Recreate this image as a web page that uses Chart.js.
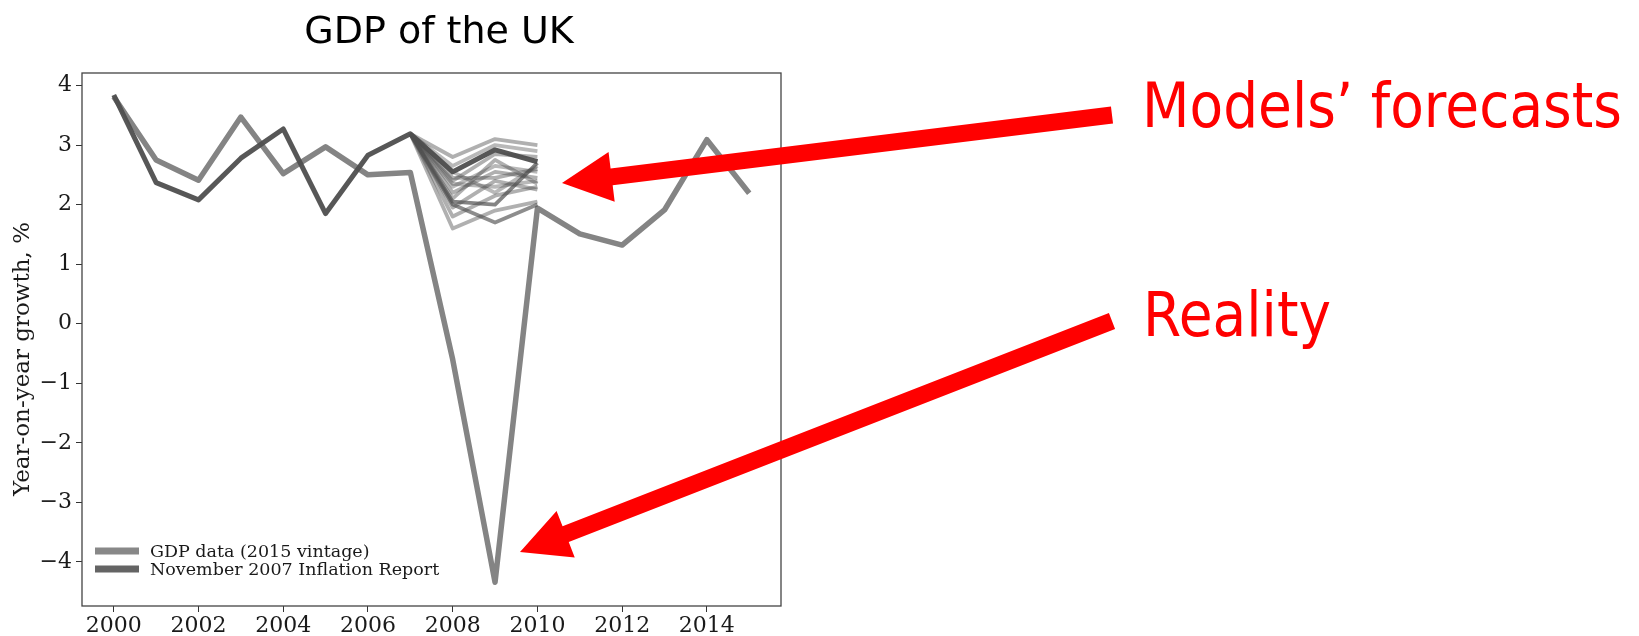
<!DOCTYPE html>
<html>
<head>
<meta charset="utf-8">
<title>GDP of the UK</title>
<script src="https://cdn.jsdelivr.net/npm/chart.js@4/dist/chart.umd.min.js"></script>
<style>
  html, body { margin: 0; padding: 0; background: #fff; }
  #wrap { width: 1639px; height: 636px; }
</style>
</head>
<body>
<div id="wrap"><canvas id="gdpChart" width="1639" height="636"></canvas></div>
<script>
// Data
const years = [2000, 2001, 2002, 2003, 2004, 2005, 2006, 2007, 2008, 2009, 2010, 2011, 2012, 2013, 2014, 2015];
const gdpData = [3.81, 2.75, 2.41, 3.47, 2.52, 2.97, 2.50, 2.54, -0.60, -4.34, 1.94, 1.51, 1.32, 1.91, 3.09, 2.19];

const reportYears = [2000, 2001, 2002, 2003, 2004, 2005, 2006, 2007, 2008, 2009, 2010];
const reportData = [3.84, 2.37, 2.08, 2.78, 3.27, 1.85, 2.83, 3.19, 2.55, 2.92, 2.72];

// Kipas prakiraan model (2007-2010)
const fanYears = [2007, 2008, 2009, 2010];
const fan01 = [3.19, 2.80, 3.10, 3.00];
const fan02 = [3.19, 2.65, 3.00, 2.90];
const fan03 = [3.19, 2.40, 2.85, 2.80];
const fan04 = [3.19, 2.30, 2.65, 2.55];
const fan05 = [3.19, 2.45, 2.45, 2.60];
const fan06 = [3.19, 2.20, 2.55, 2.45];
const fan07 = [3.19, 2.35, 2.30, 2.40];
const fan08 = [3.19, 2.10, 2.75, 2.35];
const fan09 = [3.19, 1.95, 2.40, 2.25];
const fan10 = [3.19, 2.05, 2.00, 2.70];
const fan11 = [3.19, 1.80, 2.15, 2.30];
const fan12 = [3.19, 1.60, 1.90, 2.05];
const fan13 = [3.19, 2.00, 1.70, 2.00];
const fan14 = [3.19, 2.55, 2.20, 2.65];
const fanSeries = [fan01, fan02, fan03, fan04, fan05, fan06, fan07, fan08, fan09, fan10, fan11, fan12, fan13, fan14];
const fanAlpha = [0.45, 0.4, 0.45, 0.4, 0.45, 0.45, 0.4, 0.45, 0.45, 0.7, 0.45, 0.45, 0.65, 0.4];

const xTicks = [2000, 2002, 2004, 2006, 2008, 2010, 2012, 2014];
const yTicks = [-4, -3, -2, -1, 0, 1, 2, 3, 4];

const labelGdp = 'GDP data (2015 vintage)';
const labelReport = 'November 2007 Inflation Report';
const chartTitle = 'GDP of the UK';
const yTitle = 'Year-on-year growth, %';
const noteForecast = 'Models\u2019 forecasts';
const noteReality = 'Reality';

const toPoints = (xs, ys) => xs.map((x, i) => ({ x: x, y: ys[i] }));

const datasets = [
    {
        label: labelReport,
        data: toPoints(reportYears, reportData),
        borderColor: 'rgba(78,78,78,0.95)',
        borderWidth: 5,
        order: 0
    }
];
fanSeries.forEach((s, i) => {
    datasets.push({
        label: 'fan' + i,
        data: toPoints(fanYears, s),
        borderColor: 'rgba(80,80,80,' + fanAlpha[i] + ')',
        borderWidth: 3.8,
        order: 1
    });
});
datasets.push({
    label: labelGdp,
    data: toPoints(years, gdpData),
    borderColor: 'rgb(132,132,132)',
    borderWidth: 5.5,
    order: 2
});

// Gambar panah merah
const drawArrow = (ctx, tx, ty, hx, hy, shaft, headL, headW) => {
    const dx = hx - tx, dy = hy - ty;
    const len = Math.sqrt(dx * dx + dy * dy);
    const ux = dx / len, uy = dy / len;
    const px = -uy, py = ux;
    const bx = hx - ux * headL, by = hy - uy * headL;
    ctx.beginPath();
    ctx.moveTo(tx + px * shaft / 2, ty + py * shaft / 2);
    ctx.lineTo(bx + px * shaft / 2, by + py * shaft / 2);
    ctx.lineTo(bx + px * headW / 2, by + py * headW / 2);
    ctx.lineTo(hx, hy);
    ctx.lineTo(bx - px * headW / 2, by - py * headW / 2);
    ctx.lineTo(bx - px * shaft / 2, by - py * shaft / 2);
    ctx.lineTo(tx - px * shaft / 2, ty - py * shaft / 2);
    ctx.closePath();
    ctx.fill();
};

const extrasPlugin = {
    id: 'extras',
    afterDraw(chart) {
        const ctx = chart.ctx;
        const a = chart.chartArea;
        ctx.save();

        // kotak sumbu
        ctx.strokeStyle = '#444';
        ctx.lineWidth = 1.3;
        ctx.strokeRect(a.left, a.top, a.right - a.left, a.bottom - a.top);

        // judul
        ctx.fillStyle = '#000';
        ctx.font = '38px "DejaVu Sans"';
        ctx.textAlign = 'center';
        ctx.textBaseline = 'alphabetic';
        ctx.fillText(chartTitle, 439, 43);

        // judul sumbu Y
        ctx.save();
        ctx.translate(23, 359);
        ctx.rotate(-Math.PI / 2);
        ctx.font = '23px "DejaVu Serif"';
        ctx.fillStyle = '#1a1a1a';
        ctx.textAlign = 'center';
        ctx.textBaseline = 'middle';
        ctx.fillText(yTitle, 0, 0);
        ctx.restore();

        // legenda
        const legend = [
            { text: labelGdp, color: 'rgb(136,136,136)', y: 551 },
            { text: labelReport, color: 'rgb(100,100,100)', y: 569 }
        ];
        ctx.font = '17.5px "DejaVu Serif"';
        ctx.textAlign = 'left';
        ctx.textBaseline = 'middle';
        legend.forEach(item => {
            ctx.strokeStyle = item.color;
            ctx.lineWidth = 7;
            ctx.beginPath();
            ctx.moveTo(95, item.y);
            ctx.lineTo(139, item.y);
            ctx.stroke();
            ctx.fillStyle = '#1a1a1a';
            ctx.fillText(item.text, 150, item.y + 1);
        });

        // anotasi merah
        ctx.fillStyle = '#ff0000';
        ctx.font = '63px "DejaVu Sans"';
        ctx.textBaseline = 'alphabetic';
        const sx = 480 / ctx.measureText(noteForecast).width;
        ctx.save();
        ctx.translate(1142, 127);
        ctx.scale(sx, 1);
        ctx.fillText(noteForecast, 0, 0);
        ctx.restore();
        ctx.save();
        ctx.translate(1143, 336);
        ctx.scale(sx, 1);
        ctx.fillText(noteReality, 0, 0);
        ctx.restore();

        drawArrow(ctx, 1112, 115, 562, 183, 17, 50, 50);
        drawArrow(ctx, 1112, 321, 520, 552, 17, 49, 50);

        ctx.restore();
    }
};

const fmtY = v => (v < 0 ? '\u2212' + Math.abs(v) : String(v));

new Chart(document.getElementById('gdpChart'), {
    type: 'line',
    data: { datasets: datasets },
    options: {
        responsive: false,
        animation: false,
        layout: { padding: { left: 0, right: 858, top: 73, bottom: 0 } },
        elements: {
            point: { radius: 0 },
            line: { tension: 0, borderJoinStyle: 'round', borderCapStyle: 'butt' }
        },
        plugins: {
            legend: { display: false },
            tooltip: { enabled: false },
            title: { display: false }
        },
        scales: {
            x: {
                type: 'linear',
                min: 1999.25,
                max: 2015.75,
                afterBuildTicks: s => { s.ticks = xTicks.map(v => ({ value: v })); },
                afterFit: s => { s.height = 30; },
                border: { display: false },
                grid: { drawOnChartArea: false, drawTicks: true, tickLength: 6, tickColor: '#333', lineWidth: 1 },
                ticks: {
                    font: { family: 'DejaVu Serif', size: 22 },
                    color: '#1a1a1a',
                    padding: 1,
                    maxRotation: 0,
                    callback: v => String(v)
                }
            },
            y: {
                type: 'linear',
                min: -4.74,
                max: 4.21,
                afterBuildTicks: s => { s.ticks = yTicks.map(v => ({ value: v })); },
                afterFit: s => { s.width = 82; },
                border: { display: false },
                grid: { drawOnChartArea: false, drawTicks: true, tickLength: 6, tickColor: '#333', lineWidth: 1 },
                ticks: {
                    font: { family: 'DejaVu Serif', size: 22 },
                    color: '#1a1a1a',
                    padding: 4,
                    callback: fmtY
                }
            }
        }
    },
    plugins: [extrasPlugin]
});
</script>
</body>
</html>
